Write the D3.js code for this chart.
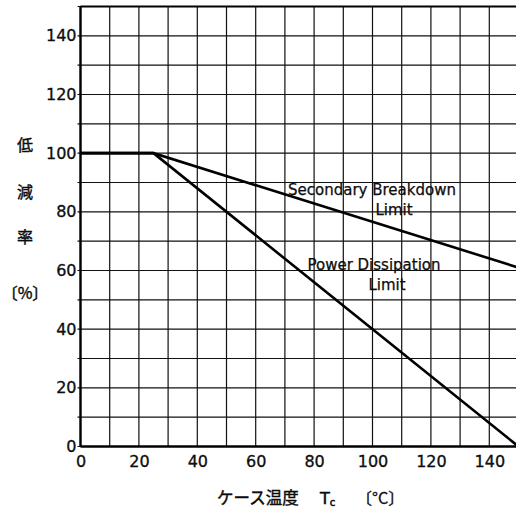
<!DOCTYPE html>
<html>
<head>
<meta charset="utf-8">
<script src="https://cdn.jsdelivr.net/npm/d3@7"></script>
<style>
  body { margin: 0; background: #fff; }
  text { font-family: "DejaVu Sans", sans-serif; fill: #111; }
</style>
</head>
<body>
<div id="chart"></div>
<script>
// derating curves
var caseTemp = [0, 25, 150];
var secondaryBreakdown = [100, 100, 61];
var powerDissipation = [100, 100, 0];

var xTicks = [0, 20, 40, 60, 80, 100, 120, 140];
var yTicks = [0, 20, 40, 60, 80, 100, 120, 140];
var gridSteps = d3.range(0, 151, 10);

var yTitleChars = ["低", "減", "率", "〔%〕"];

// set the dimensions and margins of the graph
var margin = {top: 6.5, right: -2.5, bottom: 68.5, left: 80.5},
    width = 516 - margin.left - margin.right,
    height = 515 - margin.top - margin.bottom;

var svg = d3.select("#chart")
  .append("svg")
    .attr("width", 516)
    .attr("height", 515)
  .append("g")
    .attr("transform", "translate(" + margin.left + "," + margin.top + ")");

var x = d3.scaleLinear().domain([0, 150]).range([0, width]);
var y = d3.scaleLinear().domain([0, 150]).range([height, 0]);

// grid
svg.append("g").selectAll("line.v")
  .data(gridSteps)
  .enter().append("line")
    .attr("x1", function(d) { return x(d); })
    .attr("x2", function(d) { return x(d); })
    .attr("y1", 0).attr("y2", height)
    .attr("stroke", "#111").attr("stroke-width", 1.2);
svg.append("g").selectAll("line.h")
  .data(gridSteps)
  .enter().append("line")
    .attr("x1", -3).attr("x2", width)
    .attr("y1", function(d) { return y(d); })
    .attr("y2", function(d) { return y(d); })
    .attr("stroke", "#111").attr("stroke-width", 1.2);

// frame
svg.append("line").attr("x1", 0).attr("x2", 0).attr("y1", 0).attr("y2", height)
  .attr("stroke", "#000").attr("stroke-width", 2.4);
svg.append("line").attr("x1", 0).attr("x2", width).attr("y1", height).attr("y2", height)
  .attr("stroke", "#000").attr("stroke-width", 2.4);
svg.append("line").attr("x1", 0).attr("x2", width).attr("y1", 0).attr("y2", 0)
  .attr("stroke", "#000").attr("stroke-width", 2);

// axes labels
var xAxis = svg.append("g")
  .attr("transform", "translate(0," + height + ")")
  .call(d3.axisBottom(x).tickValues(xTicks).tickSize(0).tickPadding(9));
xAxis.select(".domain").remove();
xAxis.selectAll("text").style("font-size", "16px").style("font-family", "DejaVu Sans")
  .attr("fill", "#000").attr("stroke", "#000").attr("stroke-width", 0.3);

var yAxis = svg.append("g")
  .call(d3.axisLeft(y).tickValues(yTicks).tickSize(0).tickPadding(4));
yAxis.select(".domain").remove();
yAxis.selectAll("text").style("font-size", "16px").style("font-family", "DejaVu Sans")
  .attr("fill", "#000").attr("stroke", "#000").attr("stroke-width", 0.3);

// curves
var line = d3.line()
  .x(function(d) { return x(d[0]); })
  .y(function(d) { return y(d[1]); });

svg.append("path")
  .datum(caseTemp.map(function(t, i) { return [t, secondaryBreakdown[i]]; }))
  .attr("d", line).attr("fill", "none").attr("stroke", "#000").attr("stroke-width", 2.6);
svg.append("path")
  .datum(caseTemp.map(function(t, i) { return [t, powerDissipation[i]]; }))
  .attr("d", line).attr("fill", "none").attr("stroke", "#000").attr("stroke-width", 2.6);

// curve labels
var root = d3.select("svg");
function label(tx, ty, s) {
  root.append("text").attr("x", tx).attr("y", ty).attr("text-anchor", "middle")
    .style("font-size", "15px").attr("stroke", "#000").attr("stroke-width", 0.25)
    .text(s);
}
label(372, 195, "Secondary Breakdown");
label(394, 215, "Limit");
label(374, 270, "Power Dissipation");
label(387, 290, "Limit");

// y title (vertical characters)
var yTitleY = [151, 198, 243, 299];
root.selectAll("text.ytitle")
  .data(yTitleChars)
  .enter().append("text")
    .attr("x", 25)
    .attr("y", function(d, i) { return yTitleY[i]; })
    .attr("text-anchor", "middle")
    .style("font-family", "Noto Sans CJK JP")
    .style("font-size", "16px")
    .attr("stroke", "#000").attr("stroke-width", 0.4)
    .text(function(d) { return d; });

// x title
root.append("text").attr("x", 217).attr("y", 504)
  .style("font-family", "Noto Sans CJK JP").style("font-size", "16.5px")
  .attr("stroke", "#000").attr("stroke-width", 0.4)
  .text("ケース温度");
var tc = root.append("text").attr("x", 320).attr("y", 504)
  .style("font-size", "16px").attr("stroke", "#000").attr("stroke-width", 0.5);
tc.append("tspan").text("T");
tc.append("tspan").attr("dy", 2).style("font-size", "10px").text("c");
root.append("text").attr("x", 356).attr("y", 504)
  .style("font-family", "Noto Sans CJK JP").style("font-size", "16px")
  .attr("stroke", "#000").attr("stroke-width", 0.3)
  .text("〔°C〕");
</script>
</body>
</html>
